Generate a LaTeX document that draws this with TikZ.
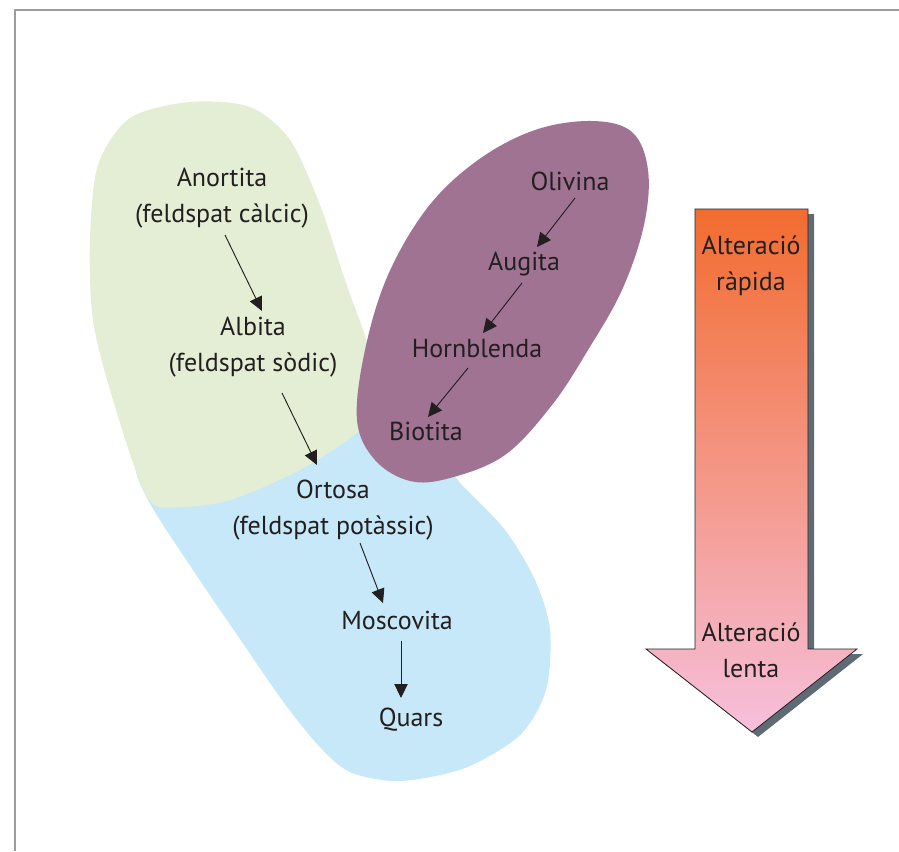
\documentclass[tikz,border=0pt]{standalone}
\usepackage{fontspec}
\setmainfont{PT Sans}
\usetikzlibrary{arrows.meta}

\definecolor{frameGray}{HTML}{9C9C9C}
\definecolor{feldGreen}{HTML}{E3EED5}
\definecolor{micaBlue}{HTML}{C6E8F8}
\definecolor{ferroPurple}{HTML}{A07393}
\definecolor{inkDark}{HTML}{231F20}
\definecolor{shadowGray}{HTML}{5E6B75}
\definecolor{fastOrange}{HTML}{F26C2F}
\definecolor{midSalmon}{HTML}{F4927B}
\definecolor{slowPink}{HTML}{F6C0DC}

\tikzset{
  mineral/.style={align=center, inner sep=0pt, text=inkDark,
    font=\fontsize{19.5}{27}\selectfont},
  seq/.style={draw=inkDark, line width=0.7pt,
    -{Triangle[length=10.5pt,width=10pt]}},
}

\begin{document}
\begin{tikzpicture}[x=0.75pt,y=-0.75pt]
  % canvas
  \fill[white] (0,0) rectangle (899,851);
  \useasboundingbox (0,0) rectangle (899,851);

  % frame (top and left edges)
  \draw[frameGray, line width=1.8pt] (15,851) -- (15,10) -- (899,10);

  % blue region: orthoclase, muscovite, quartz
  \fill[micaBlue] plot[smooth cycle, tension=0.5] coordinates {
    (136,455) (175,405) (250,400) (330,420) (420,440) (462,485) (505,530)
    (535,580) (550,630) (546,690) (520,735) (465,768) (400,781)
    (350,772) (318,745) (282,700) (242,642) (195,573) (147,498)};

  % green region: plagioclase feldspars
  \fill[feldGreen] plot[smooth cycle, tension=0.5] coordinates {
    (147,497) (113,400) (93,320) (90,240) (98,165) (130,118) (190,102)
    (250,107) (290,140) (320,205) (345,280) (368,345) (380,400)
    (358,432) (300,470) (230,500) (178,507)};

  % purple region: ferromagnesian minerals
  \fill[ferroPurple] plot[smooth cycle, tension=0.6] coordinates {
    (592,121) (632,132) (648,170) (644,225) (622,290) (588,350)
    (552,405) (505,455) (450,478) (410,481) (375,460) (357,420)
    (365,350) (388,275) (428,207) (478,160) (535,130)};

  % minerals
  \node[mineral] (an) at (222,198) {Anortita\\(feldspat càlcic)};
  \node[mineral] (al) at (253,347) {Albita\\(feldspat sòdic)};
  \node[mineral] (or) at (333,510) {Ortosa\\(feldspat potàssic)};
  \node[mineral] (mo) at (397,620) {Moscovita};
  \node[mineral] (qu) at (411,720) {Quars};
  \node[mineral] (ol) at (570,181) {Olivina};
  \node[mineral] (au) at (524,264) {Augita};
  \node[mineral] (ho) at (477,349) {Hornblenda};
  \node[mineral] (bi) at (426,431) {Biotita};

  % crystallisation sequences
  \draw[seq] ([shift={(3,37)}]an.center) -- ([shift={(9,-36)}]al.center);
  \draw[seq] ([shift={(29,46)}]al.center) -- ([shift={(-16,-45)}]or.center);
  \draw[seq] ([shift={(27,33)}]or.center) -- ([shift={(-14,-17)}]mo.center);
  \draw[seq] ([shift={(4,21)}]mo.center) -- ([shift={(-10,-22)}]qu.center);
  \draw[seq] ([shift={(5,17)}]ol.center) -- ([shift={(13,-17)}]au.center);
  \draw[seq] ([shift={(-2,19)}]au.center) -- ([shift={(6,-16)}]ho.center);
  \draw[seq] ([shift={(-9,19)}]ho.center) -- ([shift={(2,-14)}]bi.center);

  % weathering-rate arrow with drop shadow
  \fill[shadowGray] (701,214) -- (814,214) -- (814,654) -- (863,654)
    -- (758,737) -- (652,654) -- (701,654) -- cycle;
  \shade[top color=fastOrange, middle color=midSalmon, bottom color=slowPink,
         draw=inkDark, line width=0.6pt]
    (695,209) -- (808,209) -- (808,649) -- (857,649) -- (752,732)
    -- (646,649) -- (695,649) -- cycle;

  \node[mineral] (fast) at (751,266) {Alteració\\ràpida};
  \node[mineral] (slow) at (751,650) {Alteració\\lenta};
\end{tikzpicture}
\end{document}
